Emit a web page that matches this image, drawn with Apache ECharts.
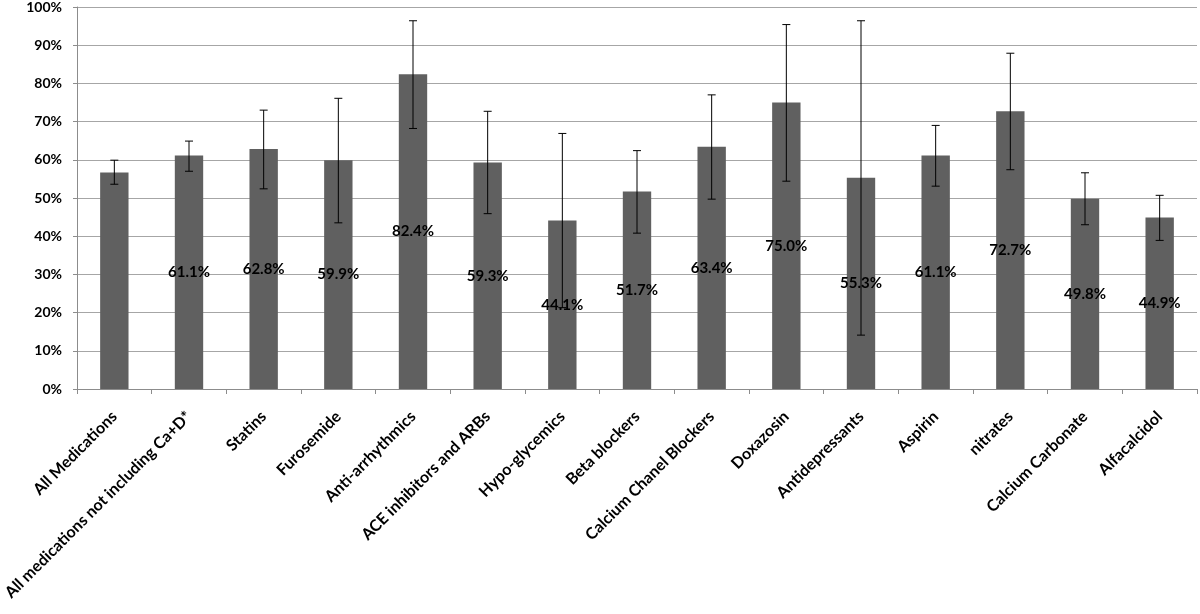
<!DOCTYPE html>
<html>
<head>
<meta charset="utf-8">
<script src="https://cdn.jsdelivr.net/npm/echarts@6/dist/echarts.min.js"></script>
<style>
html,body{margin:0;padding:0;background:#fff;}
#chart{width:1200px;height:614px;}
</style>
</head>
<body>
<div id="chart"></div>
<script>
const categories = ['All Medications','All medications not including Ca+D*','Statins','Furosemide','Anti-arrhythmics','ACE inhibitors and ARBs','Hypo-glycemics','Beta blockers','Calcium Chanel Blockers','Doxazosin','Antidepressants','Aspirin','nitrates','Calcium Carbonate','Alfacalcidol'];
const values = [56.7, 61.1, 62.8, 59.9, 82.4, 59.3, 44.1, 51.7, 63.4, 75.0, 55.3, 61.1, 72.7, 49.8, 44.9];
const errLow = [53.6, 57.0, 52.4, 43.5, 68.2, 45.9, 21.3, 40.8, 49.7, 54.4, 14.1, 53.1, 57.4, 43.0, 38.9];
const errHigh = [59.9, 64.9, 73.0, 76.1, 96.4, 72.7, 66.9, 62.4, 77.0, 95.4, 96.4, 69.0, 87.9, 56.6, 50.7];
const showLabel = [false, true, true, true, true, true, true, true, true, true, true, true, true, true, true];

const FONT = 'Lato';
const chart = echarts.init(document.getElementById('chart'), null, {renderer: 'canvas'});

const errData = categories.map((c, i) => [i, errLow[i], errHigh[i]]);
const labelData = values.map((v, i) => ({
  value: v,
  label: {show: showLabel[i]}
}));

chart.setOption({
  backgroundColor: '#ffffff',
  animation: false,
  grid: {left: 77, right: 3, top: 7, bottom: 225, containLabel: false, outerBoundsMode: 'none'},
  xAxis: {
    type: 'category',
    data: categories,
    boundaryGap: true,
    axisLine: {show: true, lineStyle: {color: '#8c8c8c', width: 1}},
    axisTick: {show: true, length: 5, alignWithLabel: false, lineStyle: {color: '#8c8c8c'}},
    axisLabel: {
      interval: 0,
      rotate: 45,
      margin: 25,
      color: '#000',
      fontFamily: FONT,
      fontWeight: 'bold',
      fontSize: 16
    },
    splitLine: {show: false}
  },
  yAxis: {
    type: 'value',
    min: 0,
    max: 100,
    interval: 10,
    axisLine: {show: true, lineStyle: {color: '#8c8c8c', width: 1}},
    axisTick: {show: true, length: 4, lineStyle: {color: '#8c8c8c'}},
    axisLabel: {
      formatter: '{value}%',
      margin: 15,
      color: '#000',
      fontFamily: FONT,
      fontWeight: 'bold',
      fontSize: 14
    },
    splitLine: {show: true, lineStyle: {color: '#a6a6a6', width: 1}}
  },
  series: [
    {
      type: 'bar',
      data: values,
      barWidth: '38%',
      itemStyle: {color: '#606060'},
      z: 2
    },
    {
      type: 'custom',
      data: errData,
      z: 3,
      renderItem: function (params, api) {
        const x = api.value(0);
        const lo = api.coord([x, api.value(1)]);
        const hi = api.coord([x, api.value(2)]);
        const cap = 4;
        const style = {stroke: '#000', lineWidth: 1, fill: null};
        return {
          type: 'group',
          children: [
            {type: 'line', shape: {x1: lo[0], y1: lo[1], x2: hi[0], y2: hi[1]}, style: style},
            {type: 'line', shape: {x1: hi[0] - cap, y1: hi[1], x2: hi[0] + cap, y2: hi[1]}, style: style},
            {type: 'line', shape: {x1: lo[0] - cap, y1: lo[1], x2: lo[0] + cap, y2: lo[1]}, style: style}
          ]
        };
      }
    },
    {
      type: 'bar',
      data: labelData,
      barWidth: '38%',
      barGap: '-100%',
      itemStyle: {color: 'rgba(0,0,0,0)'},
      z: 4,
      label: {
        show: true,
        position: 'inside',
        color: '#000',
        fontFamily: FONT,
        fontWeight: 'bold',
        fontSize: 15,
        formatter: function (p) { return p.value.toFixed(1) + '%'; }
      }
    }
  ]
});
</script>
</body>
</html>
